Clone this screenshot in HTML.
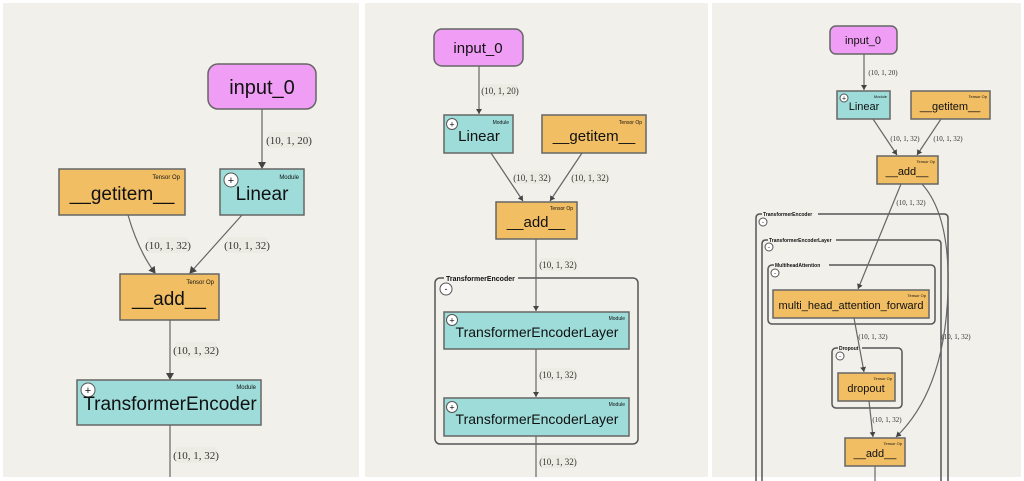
<!DOCTYPE html>
<html><head><meta charset="utf-8"><style>
html,body{margin:0;padding:0;background:#fff;width:1024px;height:481px;overflow:hidden}
svg{display:block}
.s{font-family:"Liberation Sans",sans-serif;fill:#111}
.e{font-family:"Liberation Serif",serif;fill:#333}
.ln{stroke:#666;stroke-width:1.2;fill:none}
.bx{stroke:#666;stroke-width:1.5}
.ct{fill:none;stroke:#555;stroke-width:1.5}
</style></head><body>
<svg width="1024" height="481" viewBox="0 0 1024 481" xmlns="http://www.w3.org/2000/svg">
<defs>
<marker id="a" markerWidth="8" markerHeight="8" refX="6" refY="4" orient="auto" markerUnits="userSpaceOnUse"><path d="M0,0 L7,4 L0,8 z" fill="#444"/></marker>
<marker id="b" markerWidth="6" markerHeight="6" refX="5" refY="3" orient="auto" markerUnits="userSpaceOnUse"><path d="M0,0 L5,3 L0,6 z" fill="#444"/></marker>
</defs>
<rect x="3" y="3" width="356" height="474" fill="#f1f0ea"/>
<rect x="365" y="3" width="343" height="474" fill="#f1f0ea"/>
<rect x="712" y="3" width="309" height="474" fill="#f1f0ea"/>

<!-- Panel 1 -->
<rect x="208" y="64" width="108" height="45" rx="10" fill="#f09df5" class="bx"/>
<text x="262" y="94" font-size="20" text-anchor="middle" class="s">input_0</text>
<line x1="262" y1="109" x2="262" y2="168" class="ln" marker-end="url(#a)"/>
<rect x="268" y="132" width="42" height="16" rx="4" fill="#ecebe4"/>
<text x="289" y="144" font-size="11" text-anchor="middle" class="e">(10, 1, 20)</text>
<rect x="59" y="169" width="126" height="46" fill="#f2be64" class="bx"/>
<text x="180" y="179" font-size="6" text-anchor="end" class="s">Tensor Op</text>
<text x="122" y="200" font-size="19" text-anchor="middle" class="s">__getitem__</text>
<rect x="220" y="169" width="84" height="46" fill="#9ddcd9" class="bx"/>
<text x="299" y="179" font-size="6" text-anchor="end" class="s">Module</text>
<circle cx="231" cy="180" r="7" fill="#fff" stroke="#555"/><text x="231" y="184" font-size="11" text-anchor="middle" class="s">+</text>
<text x="262" y="200" font-size="19" text-anchor="middle" class="s">Linear</text>
<path d="M128,215 Q138,250 155,273" class="ln" marker-end="url(#a)"/>
<path d="M242,215 L190,273" class="ln" marker-end="url(#a)"/>
<rect x="147" y="237" width="42" height="16" rx="4" fill="#ecebe4"/>
<text x="168" y="249" font-size="11" text-anchor="middle" class="e">(10, 1, 32)</text>
<rect x="226" y="237" width="42" height="16" rx="4" fill="#ecebe4"/>
<text x="247" y="249" font-size="11" text-anchor="middle" class="e">(10, 1, 32)</text>
<rect x="120" y="274" width="99" height="46" fill="#f2be64" class="bx"/>
<text x="214" y="284" font-size="6" text-anchor="end" class="s">Tensor Op</text>
<text x="169" y="305" font-size="19" text-anchor="middle" class="s">__add__</text>
<line x1="170" y1="320" x2="170" y2="379" class="ln" marker-end="url(#a)"/>
<rect x="175" y="342" width="42" height="16" rx="4" fill="#ecebe4"/>
<text x="196" y="354" font-size="11" text-anchor="middle" class="e">(10, 1, 32)</text>
<rect x="77" y="380" width="184" height="45" fill="#9ddcd9" class="bx"/>
<text x="256" y="389" font-size="6" text-anchor="end" class="s">Module</text>
<circle cx="88" cy="390" r="7" fill="#fff" stroke="#555"/><text x="88" y="394" font-size="11" text-anchor="middle" class="s">+</text>
<text x="170" y="410" font-size="19" text-anchor="middle" class="s">TransformerEncoder</text>
<line x1="170" y1="425" x2="170" y2="477" class="ln"/>
<rect x="175" y="447" width="42" height="16" rx="4" fill="#ecebe4"/>
<text x="196" y="459" font-size="11" text-anchor="middle" class="e">(10, 1, 32)</text>

<!-- Panel 2 -->
<rect x="434" y="29" width="89" height="37" rx="8" fill="#f09df5" class="bx"/>
<text x="478" y="53" font-size="15" text-anchor="middle" class="s">input_0</text>
<line x1="479" y1="66" x2="479" y2="114" class="ln" marker-end="url(#b)"/>
<rect x="482" y="84" width="36" height="13" rx="3" fill="#ecebe4"/>
<text x="500" y="94" font-size="9" text-anchor="middle" class="e">(10, 1, 20)</text>
<rect x="444" y="115" width="69" height="38" fill="#9ddcd9" class="bx"/>
<text x="509" y="124" font-size="5" text-anchor="end" class="s">Module</text>
<circle cx="452" cy="124" r="5.5" fill="#fff" stroke="#555"/><text x="452" y="127.5" font-size="9" text-anchor="middle" class="s">+</text>
<text x="479" y="141" font-size="15" text-anchor="middle" class="s">Linear</text>
<rect x="542" y="115" width="104" height="38" fill="#f2be64" class="bx"/>
<text x="642" y="124" font-size="5" text-anchor="end" class="s">Tensor Op</text>
<text x="594" y="141" font-size="15" text-anchor="middle" class="s">__getitem__</text>
<line x1="491" y1="153" x2="523" y2="201" class="ln" marker-end="url(#b)"/>
<line x1="582" y1="153" x2="550" y2="201" class="ln" marker-end="url(#b)"/>
<rect x="514" y="171" width="36" height="13" rx="3" fill="#ecebe4"/>
<text x="532" y="181" font-size="9" text-anchor="middle" class="e">(10, 1, 32)</text>
<rect x="572" y="171" width="36" height="13" rx="3" fill="#ecebe4"/>
<text x="590" y="181" font-size="9" text-anchor="middle" class="e">(10, 1, 32)</text>
<rect x="496" y="202" width="81" height="37" fill="#f2be64" class="bx"/>
<text x="573" y="210" font-size="5" text-anchor="end" class="s">Tensor Op</text>
<text x="536" y="227" font-size="15" text-anchor="middle" class="s">__add__</text>
<rect x="435" y="278" width="203" height="166" rx="5" class="ct"/>
<rect x="444" y="274" width="74" height="8" fill="#f1f0ea"/>
<text x="446" y="281" font-size="7" class="s" font-weight="bold" fill="#444">TransformerEncoder</text>
<circle cx="446" cy="289" r="6" fill="#fff" stroke="#555"/><text x="446" y="292" font-size="9" text-anchor="middle" class="s">-</text>
<line x1="536" y1="239" x2="536" y2="311" class="ln" marker-end="url(#b)"/>
<rect x="540" y="258" width="36" height="13" rx="3" fill="#ecebe4"/>
<text x="558" y="268" font-size="9" text-anchor="middle" class="e">(10, 1, 32)</text>
<rect x="444" y="312" width="185" height="37" fill="#9ddcd9" class="bx"/>
<text x="625" y="320" font-size="5" text-anchor="end" class="s">Module</text>
<circle cx="452" cy="320" r="5.5" fill="#fff" stroke="#555"/><text x="452" y="323.5" font-size="9" text-anchor="middle" class="s">+</text>
<text x="537" y="337" font-size="14" text-anchor="middle" class="s">TransformerEncoderLayer</text>
<line x1="536" y1="349" x2="536" y2="397" class="ln" marker-end="url(#b)"/>
<rect x="540" y="368" width="36" height="13" rx="3" fill="#ecebe4"/>
<text x="558" y="378" font-size="9" text-anchor="middle" class="e">(10, 1, 32)</text>
<rect x="444" y="398" width="185" height="38" fill="#9ddcd9" class="bx"/>
<text x="625" y="406" font-size="5" text-anchor="end" class="s">Module</text>
<circle cx="452" cy="407" r="5.5" fill="#fff" stroke="#555"/><text x="452" y="410.5" font-size="9" text-anchor="middle" class="s">+</text>
<text x="537" y="424" font-size="14" text-anchor="middle" class="s">TransformerEncoderLayer</text>
<line x1="536" y1="436" x2="536" y2="477" class="ln"/>
<rect x="540" y="455" width="36" height="13" rx="3" fill="#ecebe4"/>
<text x="558" y="465" font-size="9" text-anchor="middle" class="e">(10, 1, 32)</text>

<!-- Panel 3 -->
<rect x="830" y="26" width="67" height="28" rx="6" fill="#f09df5" class="bx"/>
<text x="863" y="44" font-size="11" text-anchor="middle" class="s">input_0</text>
<line x1="864" y1="54" x2="864" y2="90" class="ln" marker-end="url(#b)"/>
<text x="883" y="75" font-size="7" text-anchor="middle" class="e">(10, 1, 20)</text>
<rect x="837" y="91" width="53" height="28" fill="#9ddcd9" class="bx"/>
<text x="887" y="98" font-size="4" text-anchor="end" class="s">Module</text>
<circle cx="844" cy="98" r="4" fill="#fff" stroke="#555"/><text x="844" y="100.5" font-size="7" text-anchor="middle" class="s">+</text>
<text x="864" y="110" font-size="11" text-anchor="middle" class="s">Linear</text>
<rect x="911" y="91" width="79" height="28" fill="#f2be64" class="bx"/>
<text x="987" y="98" font-size="4" text-anchor="end" class="s">Tensor Op</text>
<text x="950" y="110" font-size="11" text-anchor="middle" class="s">__getitem__</text>
<line x1="873" y1="119" x2="897" y2="155" class="ln" marker-end="url(#b)"/>
<line x1="941" y1="119" x2="917" y2="155" class="ln" marker-end="url(#b)"/>
<text x="905" y="141" font-size="7" text-anchor="middle" class="e">(10, 1, 32)</text>
<text x="948" y="141" font-size="7" text-anchor="middle" class="e">(10, 1, 32)</text>
<rect x="877" y="156" width="61" height="28" fill="#f2be64" class="bx"/>
<text x="935" y="163" font-size="4" text-anchor="end" class="s">Tensor Op</text>
<text x="907" y="175" font-size="11" text-anchor="middle" class="s">__add__</text>

<path d="M756,490 L756,218 Q756,214 760,214 L944,214 Q948,214 948,218 L948,490" class="ct"/>
<rect x="762" y="211" width="56" height="6" fill="#f1f0ea"/>
<text x="763" y="216" font-size="5" class="s" font-weight="bold" fill="#444">TransformerEncoder</text>
<circle cx="763" cy="222" r="4" fill="#fff" stroke="#555"/><text x="763" y="224" font-size="6" text-anchor="middle" class="s">-</text>
<path d="M762,490 L762,244 Q762,240 766,240 L937,240 Q941,240 941,244 L941,490" class="ct"/>
<rect x="768" y="237" width="68" height="6" fill="#f1f0ea"/>
<text x="769" y="242" font-size="5" class="s" font-weight="bold" fill="#444">TransformerEncoderLayer</text>
<circle cx="769" cy="247" r="4" fill="#fff" stroke="#555"/><text x="769" y="249" font-size="6" text-anchor="middle" class="s">-</text>
<rect x="768" y="265" width="167" height="59" rx="4" class="ct"/>
<rect x="774" y="262" width="55" height="6" fill="#f1f0ea"/>
<text x="775" y="267" font-size="5" class="s" font-weight="bold" fill="#444">MultiheadAttention</text>
<circle cx="775" cy="273" r="4" fill="#fff" stroke="#555"/><text x="775" y="275" font-size="6" text-anchor="middle" class="s">-</text>
<rect x="773" y="290" width="156" height="28" fill="#f2be64" class="bx"/>
<text x="926" y="297" font-size="4" text-anchor="end" class="s">Tensor Op</text>
<text x="851" y="309" font-size="11" text-anchor="middle" class="s">multi_head_attention_forward</text>
<rect x="832" y="348" width="70" height="60" rx="4" class="ct"/>
<rect x="838" y="345" width="24" height="6" fill="#f1f0ea"/>
<text x="839" y="350" font-size="5" class="s" font-weight="bold" fill="#444">Dropout</text>
<circle cx="840" cy="356" r="4" fill="#fff" stroke="#555"/><text x="840" y="358" font-size="6" text-anchor="middle" class="s">-</text>
<rect x="838" y="373" width="57" height="28" fill="#f2be64" class="bx"/>
<text x="892" y="380" font-size="4" text-anchor="end" class="s">Tensor Op</text>
<text x="866" y="392" font-size="11" text-anchor="middle" class="s">dropout</text>
<rect x="845" y="438" width="60" height="28" fill="#f2be64" class="bx"/>
<text x="902" y="445" font-size="4" text-anchor="end" class="s">Tensor Op</text>
<text x="875" y="457" font-size="11" text-anchor="middle" class="s">__add__</text>
<line x1="875" y1="466" x2="875" y2="481" class="ln"/>

<path d="M901,184 L858,289" class="ln" marker-end="url(#b)"/>
<text x="911" y="205" font-size="7" text-anchor="middle" class="e">(10, 1, 32)</text>
<path d="M922,184 Q950,215 948,290 Q945,390 896,437" class="ln" marker-end="url(#b)"/>
<text x="956" y="339" font-size="7" text-anchor="middle" class="e">(10, 1, 32)</text>
<path d="M854,318 L864,372" class="ln" marker-end="url(#b)"/>
<text x="873" y="339" font-size="7" text-anchor="middle" class="e">(10, 1, 32)</text>
<path d="M869,401 L873,437" class="ln" marker-end="url(#b)"/>
<text x="887" y="422" font-size="7" text-anchor="middle" class="e">(10, 1, 32)</text>
</svg>
</body></html>
